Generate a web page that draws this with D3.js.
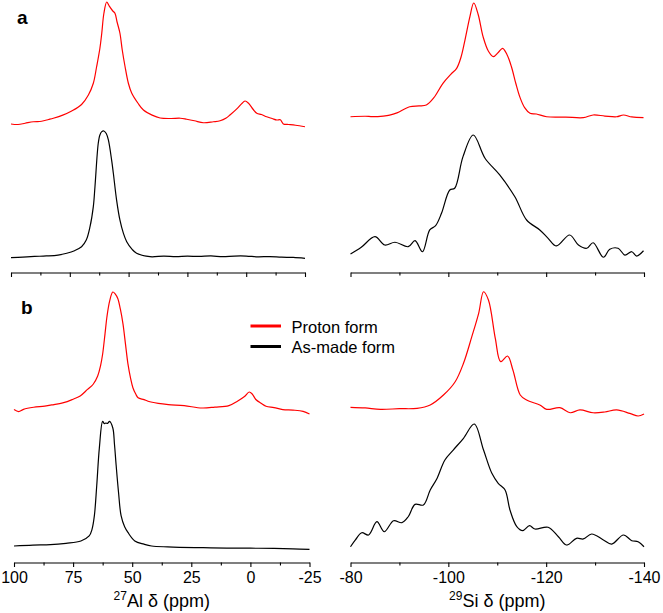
<!DOCTYPE html>
<html><head><meta charset="utf-8">
<script src="https://cdn.jsdelivr.net/npm/d3@7"></script>
<style>body{margin:0;background:#fff}svg{display:block}</style>
</head><body>
<svg id="c" width="663" height="613"></svg>
<script>
// ---- data ----
const alTicks = [100, 75, 50, 25, 0, -25];
const alMinorTicks = [87.5, 62.5, 37.5, 12.5, -12.5];
const siTicks = [-80, -100, -120, -140];
const siMinorTicks = [-90, -110, -130];
const seriesNames = ["Proton form", "As-made form"];
const alTitle = ["27", "Al \u03b4 (ppm)"];
const siTitle = ["29", "Si \u03b4 (ppm)"];
const panelLabels = ["a", "b"];

// [ppm, relative intensity]
const aAlProton = [[100,2.4],[97,2.0],[94,3.0],[90.5,4.2],[87,4.6],[84,6.0],[82,7.0],[78,9.5],[74.2,12.8],[70,18],[67.1,25.6],[65,35],[63.6,48.2],[62.2,63],[61.4,75.2],[60.5,91],[59.3,100],[58.3,97],[56.8,93],[55.8,91],[54.9,84],[53.7,75.2],[52.7,61.6],[51.5,48.2],[50.1,35],[48.7,27.2],[46,19],[43.7,13.6],[40,9.5],[36.6,7.2],[32,6.8],[28,7.0],[25.3,6.2],[22,5.0],[18.2,3.4],[14,4.2],[11.1,5.0],[8.5,7.2],[6.9,9.6],[4,14.5],[2,18.5],[0.5,20.8],[-1,19],[-3,14],[-4.5,11],[-6.5,10],[-8.7,8.2],[-11,6.8],[-13,5.6],[-14.5,5.8],[-15.8,2.4],[-18,2.0],[-21,1.4],[-25,0.2]];
const aAlAsMade = [[100,1.0],[95,1.5],[90,2.0],[85,2.4],[80,3.1],[76.3,4.5],[73,6.5],[70,9.6],[68,14.8],[66.4,25.2],[65,40.9],[64.3,56.5],[62.9,90.4],[62.2,96.9],[61.4,99.5],[60.5,100],[59.5,98],[58.6,93],[57.2,77],[56.5,67.2],[55.1,46],[53.7,30.5],[52.2,20],[50.8,13.5],[48.5,7.5],[46.6,4.5],[40.9,1.8],[35,2.3],[30,1.9],[25,2.2],[20,2.0],[15,2.4],[10,1.8],[5,2.3],[0,2.3],[-5,1.7],[-10,1.9],[-15,1.4],[-20,1.2],[-25,0.5]];
const aSiProton = [[-80,1.1],[-83,1.5],[-84.5,1.2],[-86.7,1.7],[-88,2.5],[-89.5,4.5],[-92.1,9.8],[-94,10.5],[-95.5,11.3],[-97,17.4],[-98.9,30.2],[-100.5,38],[-101.7,43.2],[-102.6,53],[-103.4,67.8],[-104.4,88],[-105.2,100],[-106.1,90],[-107.1,70.7],[-108.2,58],[-109.2,53.3],[-110.2,57],[-111.1,60.6],[-112,55],[-112.9,44.6],[-113.8,30],[-114.6,18.5],[-115.6,9],[-116.7,4.1],[-118,3.5],[-120.1,1.1],[-124,0.8],[-127.6,0.3],[-129.6,2.6],[-132,1.7],[-134.4,1.1],[-135.8,2.6],[-137.5,0.9],[-139.9,0.3]];
const aSiAsMade = [[-80,3.3],[-82.2,8.7],[-85,17.3],[-87,10.6],[-89.1,12.8],[-91.8,9.2],[-93.2,14.1],[-94.7,5.1],[-96.2,22.8],[-97.4,26.3],[-98.6,36.3],[-100.3,55.3],[-101.3,56.7],[-103,82.4],[-105.1,100],[-107.5,81.1],[-110.5,67.5],[-113.6,49.8],[-116,30.9],[-118.7,22.8],[-120.4,16],[-122.1,9.8],[-124.8,18.7],[-126.6,10.6],[-128.3,7.9],[-129.6,12.4],[-131.7,0.6],[-133,7.1],[-134.7,7.9],[-136.1,2.4],[-137.5,5.1],[-138.5,1.6],[-139.9,5.9]];
const bAlProton = [[100,4.4],[98,2.8],[96,4.6],[91.7,6.3],[87,7.2],[83.1,8.5],[79,10.0],[75.3,12.6],[72,15.5],[68.9,20.8],[66.5,25],[64.6,31.7],[63.4,40],[62.5,49.6],[61.5,66],[60.7,79.7],[59.5,93],[58.2,100],[57.2,98.5],[56.1,94.7],[55,86],[53.9,74.1],[52.8,57],[51.8,41.5],[50.7,30],[49.7,22.2],[48.5,17],[47.5,14],[45,12.5],[43.3,11.2],[39,9.5],[34.7,8.5],[28,7.6],[20.5,5.7],[15,6.4],[9.1,7.6],[5.5,11.2],[2.5,15],[0.5,18.7],[-0.8,17],[-2.3,12.6],[-4.5,9.5],[-6.6,7.1],[-10,6.0],[-13.7,4.4],[-18,4.0],[-22.3,3.0],[-25,0.8]];
const bAlAsMade = [[100,3.1],[92,3.8],[84.6,4.1],[78,5.2],[71.7,7],[68.2,10.9],[67,16],[66,26.6],[65,50],[63.9,79],[62.5,99.7],[61.8,98],[61.1,98.4],[60.4,98.2],[59.6,99.7],[58.2,94.6],[57.5,82],[56.8,65.9],[55.8,45],[54.7,26.6],[53.2,18],[51.8,13.6],[48.9,7],[45,4.5],[41.8,3.1],[35,2.4],[30,2.1],[20,1.8],[10,1.5],[0,1.4],[-10,1.2],[-18,0.9],[-25,0.5]];
const bSiProton = [[-80,7.7],[-83,7.2],[-86.1,6.1],[-90,6.6],[-93.6,6.9],[-96.3,9.6],[-99,17.5],[-101.4,28.1],[-103.1,42.8],[-104.8,64],[-106.2,82.6],[-107.2,99.8],[-108.2,93.2],[-109.6,62.7],[-110.7,44.1],[-112.1,48.6],[-113.2,37.5],[-114.7,17.5],[-116,13.5],[-118.7,9.6],[-120.1,6.1],[-122.8,7.4],[-124.9,3.4],[-126.9,5.6],[-129.6,3.4],[-132,4.0],[-134.4,5.6],[-137.1,2.9],[-138.8,0.8],[-140,2.4]];
const bSiAsMade = [[-80,1],[-81,6.5],[-82.3,12.3],[-83.7,10.5],[-85.4,21.2],[-86.9,13.1],[-88.8,22],[-90.5,20.4],[-91.8,25.2],[-93.2,35.2],[-94.9,34.7],[-96.3,46.8],[-97.6,55.4],[-99.3,71],[-101,79],[-103.1,88.5],[-105.3,100],[-107.2,79],[-108.9,60.2],[-110.2,52.2],[-111.6,46.8],[-112.6,30.6],[-114,17.2],[-115.2,14],[-116.6,18],[-117.7,15.3],[-120.4,16.7],[-122.5,9.1],[-124.2,2.4],[-126.2,7.8],[-127.6,7.3],[-129.3,11.3],[-131.7,6.5],[-133.4,3.2],[-135.8,10.5],[-137.5,5.9],[-138.8,5.1],[-140,1]];

// ---- layout ----
const svg = d3.select("#c");
const FONT = "Arial, 'Liberation Sans', sans-serif";
const colProton = "#ff0000", colAsMade = "#000000";

const panels = [
  {axisY: 272.5, showLabels: false, cols: [
    {x: d3.scaleLinear().domain([100, -25]).range([11, 305]), ticks: alTicks, minor: alMinorTicks,
     traces: [{d: aAlProton, c: colProton, base: 127, top: 2}, {d: aAlAsMade, c: colAsMade, base: 259, top: 131}]},
    {x: d3.scaleLinear().domain([-80, -140]).range([350.5, 644]), ticks: siTicks, minor: siMinorTicks,
     traces: [{d: aSiProton, c: colProton, base: 118, top: 3}, {d: aSiAsMade, c: colAsMade, base: 258, top: 135}]}
  ]},
  {axisY: 562.5, showLabels: true, cols: [
    {x: d3.scaleLinear().domain([100, -25]).range([14, 309.5]), ticks: alTicks, minor: alMinorTicks, title: alTitle,
     traces: [{d: bAlProton, c: colProton, base: 415, top: 292}, {d: bAlAsMade, c: colAsMade, base: 550, top: 421}]},
    {x: d3.scaleLinear().domain([-80, -140]).range([350.5, 644]), ticks: siTicks, minor: siMinorTicks, title: siTitle,
     traces: [{d: bSiProton, c: colProton, base: 417, top: 291.5}, {d: bSiAsMade, c: colAsMade, base: 548, top: 424}]}
  ]}
];

panels.forEach(p => {
  p.cols.forEach(col => {
    col.traces.forEach(t => {
      const y = d3.scaleLinear().domain([0, 100]).range([t.base, t.top]);
      const line = d3.line().x(d => col.x(d[0])).y(d => y(d[1])).curve(d3.curveCatmullRom.alpha(0.5));
      svg.append("path").attr("d", line(t.d)).attr("fill", "none")
        .attr("stroke", t.c).attr("stroke-width", 1.2).attr("stroke-linejoin", "round");
    });
    const gm = svg.append("g").attr("transform", `translate(0,${p.axisY})`)
      .call(d3.axisBottom(col.x).tickValues(col.minor).tickSize(3).tickFormat(""));
    gm.select(".domain").remove();
    const g = svg.append("g").attr("transform", `translate(0,${p.axisY})`)
      .call(d3.axisBottom(col.x).tickValues(col.ticks).tickSize(4.5).tickSizeOuter(0).tickPadding(5)
        .tickFormat(p.showLabels ? (d => String(d)) : ""));
    g.selectAll("line, path").attr("stroke", "#000").attr("stroke-width", 1.1);
    gm.selectAll("line").attr("stroke", "#000").attr("stroke-width", 1.1);
    g.selectAll("text").attr("font-family", FONT).attr("font-size", 16).attr("fill", "#000");
    if (col.title) {
      const r = col.x.range();
      const tx = svg.append("text").attr("x", (r[0] + r[1]) / 2).attr("y", 607)
        .attr("text-anchor", "middle").attr("font-family", FONT).attr("font-size", 18).attr("fill", "#000");
      tx.append("tspan").attr("font-size", 12).attr("dy", -7).text(col.title[0]);
      tx.append("tspan").attr("dy", 7).text(col.title[1]);
    }
  });
});

svg.append("text").attr("x", 17).attr("y", 24).text(panelLabels[0])
  .attr("font-family", FONT).attr("font-weight", "bold").attr("font-size", 19);
svg.append("text").attr("x", 21).attr("y", 313.5).text(panelLabels[1])
  .attr("font-family", FONT).attr("font-weight", "bold").attr("font-size", 19);

const legend = svg.append("g");
[colProton, colAsMade].forEach((c, i) => {
  const yy = 326 + i * 20.5;
  legend.append("line").attr("x1", 250.5).attr("x2", 281).attr("y1", yy).attr("y2", yy)
    .attr("stroke", c).attr("stroke-width", 3);
  legend.append("text").attr("x", 291.5).attr("y", yy + 6.5).text(seriesNames[i])
    .attr("font-family", FONT).attr("font-size", 16.5).attr("fill", "#000");
});
</script>
</body></html>
